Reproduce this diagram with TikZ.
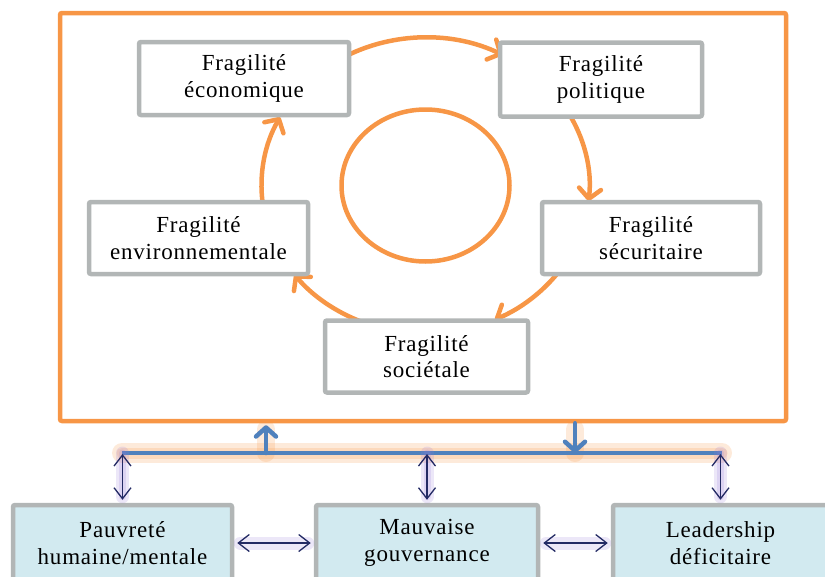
\documentclass[tikz,border=0pt]{standalone}
\usepackage{fontspec}
\setmainfont{Liberation Serif}[LetterSpace=3.5]
\usepackage{xcolor}
\usetikzlibrary{arrows.meta, calc}
\definecolor{cycorange}{RGB}{247,150,70}
\definecolor{boxgray}{RGB}{178,182,182}
\definecolor{causeblue}{RGB}{210,234,240}
\definecolor{busblue}{RGB}{79,129,189}
\definecolor{linknavy}{RGB}{35,42,100}
\definecolor{glowpurple}{RGB}{150,120,215}

\begin{document}
\begin{tikzpicture}[x=1pt,y=-1pt,font=\rmfamily\fontsize{23}{26.5}\selectfont,
    frag/.style={draw=boxgray, line width=4.5pt, fill=white, rounded corners=2pt, align=center, inner sep=0pt},
    cause/.style={draw=boxgray, line width=4.5pt, fill=causeblue, rounded corners=2pt, align=center, inner sep=0pt, minimum height=76pt},
    cyc/.style={draw=cycorange, line width=4.5pt, line cap=round, -{Straight Barb[length=10pt,width=22pt,line cap=round,line join=round]}},
    bus/.style={draw=busblue, line width=4.5pt},
    buslink/.style={bus, line cap=round, -{Straight Barb[length=9pt,width=20pt,line cap=round,line join=round]}, shorten >=2pt},
    orangeglow/.style={draw=cycorange, line width=#1, opacity=0.2, line cap=round},
    link/.style={draw=linknavy, line width=1.3pt, {Straight Barb[length=11pt,width=17pt]}-{Straight Barb[length=11pt,width=17pt]}, shorten >=3pt, shorten <=1pt},
    purpleglow/.style={draw=glowpurple, line width=#1, opacity=0.18, line cap=round}]
    \useasboundingbox (0,0) rectangle (825,576);
    \node[draw=cycorange, line width=4.5pt, rounded corners=2pt, minimum width=726pt, minimum height=408pt] (frame) at (423,217) {};
    \coordinate (c) at (425.5,185.5);
    \draw[cycorange, line width=4.5pt] (c) ellipse[x radius=84, y radius=76];
    \draw[cyc] ([shift={(-119:164 and 148)}]c) arc[start angle=-119, end angle=-62, x radius=164, y radius=148];
    \draw[cyc] ([shift={(-30:164 and 148)}]c) arc[start angle=-30, end angle=6, x radius=164, y radius=148];
    \draw[cyc] ([shift={(36:164 and 148)}]c) arc[start angle=36, end angle=65, x radius=164, y radius=148];
    \draw[cyc] ([shift={(113:164 and 148)}]c) arc[start angle=113, end angle=143, x radius=164, y radius=148];
    \draw[cyc] ([shift={(173:164 and 148)}]c) arc[start angle=173, end angle=207.5, x radius=164, y radius=148];
    \node[frag, minimum width=210pt, minimum height=73pt] (eco) at (244,78.5) {Fragilité\\économique};
    \node[frag, minimum width=202pt, minimum height=74pt] (pol) at (601,79.5) {Fragilité\\politique};
    \node[frag, minimum width=219pt, minimum height=72pt] (env) at (198.5,238) {Fragilité\\environnementale};
    \node[frag, minimum width=218pt, minimum height=72pt] (sec) at (651,238) {Fragilité\\sécuritaire};
    \node[frag, minimum width=203pt, minimum height=72pt] (soc) at (426.5,356.5) {Fragilité\\sociétale};
    \node[cause, minimum width=219pt] (pauv) at (122.5,543) {Pauvreté\\humaine/mentale};
    \node[cause, minimum width=222pt] (gouv) at (427,543) {Mauvaise\\gouvernance};
    \node[cause, minimum width=215pt] (lead) at (720.5,543) {Leadership\\déficitaire};
    \coordinate (busL) at (122,453);
    \coordinate (busR) at (722,453);
    \coordinate (up) at (266,453);
    \coordinate (down) at (575,453);
    \draw[orangeglow=20pt] (busL) -- (busR);
    \draw[orangeglow=11pt] (busL) -- (busR);
    \draw[orangeglow=18pt] (up) -- ($(up |- frame.south)+(0,6)$);
    \draw[orangeglow=18pt] (down) -- ($(down |- frame.south)+(0,6)$);
    \draw[bus] (busL) -- (busR);
    \draw[buslink] (up) -- (up |- frame.south);
    \draw[buslink, shorten >=0pt] (down |- frame.south) -- (down);
    \foreach \b in {pauv, gouv, lead} {
        \draw[purpleglow=13pt] (\b.north |- busL) -- ($(\b.north)+(0,-6)$);
        \draw[purpleglow=7pt] (\b.north |- busL) -- ($(\b.north)+(0,-6)$);
        \draw[link] (\b.north |- busL) -- (\b.north);
    }
    \draw[purpleglow=13pt] ($(pauv.east)+(6,0)$) -- ($(gouv.west)+(-6,0)$);
    \draw[purpleglow=13pt] ($(gouv.east)+(6,0)$) -- ($(lead.west)+(-6,0)$);
    \draw[link, shorten <=3pt] (pauv.east) -- (gouv.west);
    \draw[link, shorten <=3pt] (gouv.east) -- (lead.west);
\end{tikzpicture}
\end{document}
